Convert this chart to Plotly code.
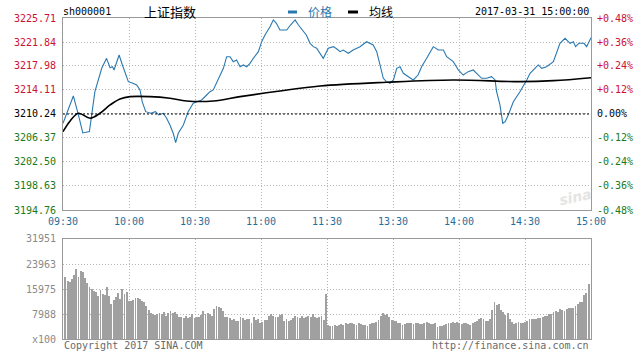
import plotly.graph_objects as go
import numpy as np

# ---------------- data ----------------
prev_close = 3210.24

price_min = [0, 2.5, 4.7, 7, 9, 12, 14.5, 17.6, 19.8, 21.4, 22.5, 23.2, 25.5, 27, 29.7, 31.5, 33.5, 35, 36, 37.6,
             39.9, 42, 43.5, 45.6, 47.1, 48.6, 50.1, 51.2, 52.4, 54.7, 56.9, 59.2, 61, 63, 65.3, 66.8, 68.3, 69.8, 71.4, 72.9,
             74.4, 75.9, 77.4, 78.9, 80.5, 82, 83.5, 85, 86.5, 88.8, 90.3, 91.8, 94.1, 95.6, 97, 98.6, 100, 101.7, 103.4, 105.5,
             107, 109.2, 110.6, 112.3, 113.8, 115.3, 116.8, 118.3, 120.6, 122.9, 124.5, 125.9, 127.4, 129.7, 131.9, 135, 138, 141, 142.6, 144,
             145.6, 147, 148.6, 150.2, 151.7, 153.2, 154.7, 157, 159.2, 161.4, 163, 165.3, 168.3, 170.6, 172.9, 174.4, 177.4, 179.7, 181.9, 184.2,
             186.5, 188, 190.3, 192.6, 194.8, 196.4, 197.1, 198.6, 199.9, 201, 202.4, 204.7, 207.7, 210.8, 212.3, 214.5, 216, 217.6, 219.8, 222.9,
             224.4, 225.9, 228.2, 230.5, 232, 233, 234.5, 236.8, 238, 239, 240]
price_val = [3208.74, 3211.20, 3213.14, 3210.08, 3207.18, 3207.39, 3213.83, 3217.60, 3219.21, 3217.70, 3217.86, 3217.33, 3219.75, 3218.14, 3215.45, 3215.24, 3214.91, 3214.11, 3212.22, 3210.61,
             3210.35, 3210.61, 3210.08, 3210.35, 3209.55, 3208.47, 3207.13, 3205.62, 3207.13, 3208.47, 3210.61, 3211.96, 3212.22, 3212.50, 3213.30, 3213.83, 3214.11, 3215.19, 3216.52, 3217.60,
             3219.47, 3219.47, 3218.67, 3218.94, 3217.86, 3218.14, 3217.86, 3218.41, 3219.21, 3220.28, 3221.89, 3222.97, 3224.31, 3225.39, 3224.86, 3223.78, 3223.78, 3223.78, 3224.58, 3225.39,
             3224.58, 3223.50, 3222.97, 3221.63, 3221.09, 3220.83, 3220.02, 3219.21, 3220.83, 3221.09, 3220.71, 3220.28, 3220.55, 3220.02, 3220.55, 3221.09, 3221.89, 3221.36, 3220.28, 3218.41,
             3215.99, 3215.45, 3215.19, 3215.72, 3217.60, 3217.86, 3216.80, 3216.25, 3215.72, 3216.52, 3217.86, 3219.21, 3221.09, 3220.55, 3220.55, 3219.47, 3218.67, 3217.33, 3216.52, 3217.06,
             3217.33, 3216.80, 3215.99, 3215.99, 3216.25, 3215.72, 3213.83, 3211.69, 3208.74, 3209.00, 3210.08, 3212.22, 3213.83, 3215.72, 3216.80, 3217.60, 3218.14, 3217.60, 3217.86, 3218.67,
             3220.28, 3221.63, 3222.44, 3221.63, 3221.89, 3221.09, 3221.63, 3221.63, 3221.09, 3221.89, 3222.51]

avg_min = [0, 3, 7, 12.3, 16.8, 21.4, 25.9, 30.5, 39.5, 48.6, 56.2, 68.3, 80.5, 98.6, 116.8, 147, 177.4, 207.7, 223, 240]
avg_val = [3207.39, 3209.00, 3210.35, 3209.55, 3210.35, 3211.69, 3212.66, 3213.03, 3213.03, 3212.77,
           3212.33, 3212.33, 3213.03, 3213.95, 3214.75, 3215.35, 3215.72, 3215.45, 3215.61, 3216.09]

# per-minute volume (units of 100 shares), morning then afternoon
vol_morning = [19900, 18500, 18300, 19100, 20400, 22400, 19800, 21800, 21500, 19400,
               17800, 16500, 15900, 15300, 15100, 13800, 15800, 14300, 14100, 16700,
               13700, 11100, 12500, 13300, 14600, 12800, 16000, 14400, 15100,
               12200, 12100, 12500, 13000, 13200, 12700, 12100, 11900, 10600,
               9300, 8200, 7900, 7700, 7900, 8200, 7900, 8500, 7500, 8200,
               8900, 8400, 8700, 7900, 7100, 7000, 6600, 7300, 6800, 7000,
               7900, 6800, 6900, 7100, 7700, 8900, 7900, 8200, 7900, 7300,
               9600, 10600, 10300, 9800, 8900, 7100, 6900, 6600, 6100, 6300, 5800,
               5750, 7000, 6800, 6100, 6400, 6400, 5200, 7100, 6100, 6400,
               5200, 5500, 6100, 6100, 7300, 7900, 7300, 7100, 7100, 7700,
               8000, 5900, 6400, 5750, 6100, 6600, 7300, 7100, 6600, 7300,
               6800, 7100, 7500, 7100, 7900, 7100, 6600, 7100, 7300, 6100]
vol_afternoon = [14400, 4500, 4150, 4150, 4500, 4260, 4500, 4800, 4500, 5000,
                 4800, 5200, 5000, 4800, 4500, 5000, 4800, 4500, 4500, 4260,
                 4800, 5200, 5000, 5500, 6100, 7300, 8200, 7700, 8000, 7100,
                 6100, 5750, 5750, 5200, 5000, 4500, 4800, 5200, 5000, 5000,
                 4800, 5000,
                 5000, 4800, 4800, 5000, 5300, 5000, 4800, 4800, 5000, 3940,
                 4150, 4150, 4500, 4800, 5000, 5200, 5500, 5000, 5500, 5000,
                 4800, 5000, 5200, 4800, 4500, 5000, 5500, 5860, 6280, 6600,
                 6400, 5860, 5860, 6280, 9270, 11930, 10860, 11080, 9270, 8730,
                 7670, 8200, 6280, 5540, 4800, 5200, 5500, 5200, 5200, 5500,
                 5860, 6280, 6400, 6400, 6400, 6600, 6600, 6900, 7350, 7350,
                 7880, 7990, 8520, 8950, 8520, 9590, 9270, 8950, 9590, 9800,
                 9800, 10010, 10540, 11080, 11720, 11930, 14060, 14800, 17570]
volume = vol_morning + vol_afternoon

price_ticks = [3194.76, 3198.63, 3202.50, 3206.37, 3210.24, 3214.11, 3217.98, 3221.84, 3225.71]
pct_labels = ['-0.48%', '-0.36%', '-0.24%', '-0.12%', '0.00%', '+0.12%', '+0.24%', '+0.36%', '+0.48%']
time_ticks = [0, 30, 60, 90, 120, 150, 180, 210, 240]
time_labels = ['09:30', '10:00', '10:30', '11:00', '11:30', '13:30', '14:00', '14:30', '15:00']
vol_ticks = [0, 7988, 15975, 23963, 31951]
vol_labels = ['x100', '7988', '15975', '23963', '31951']

title_code = 'sh000001'
title_name = '上证指数'
stamp = '2017-03-31 15:00:00'

# ---------------- layout helpers ----------------
W, H = 640, 358
px = lambda v: v / W
py = lambda v: (H - v) / H

RED = '#cc1133'
GREEN = '#1a7a1a'
BLUE = '#2a78b0'
MONO = 'DejaVu Sans Mono'

n_vol = len(volume)
vol_x = np.linspace(1.1, 238.9, n_vol)

fig = go.Figure()
fig.add_trace(go.Scatter(x=price_min, y=price_val, mode='lines',
                         line=dict(color=BLUE, width=1.1), xaxis='x', yaxis='y', hoverinfo='skip'))
fig.add_trace(go.Scatter(x=avg_min, y=avg_val, mode='lines', line_shape='spline',
                         line=dict(color='black', width=1.6), xaxis='x', yaxis='y', hoverinfo='skip'))
fig.add_trace(go.Bar(x=vol_x, y=volume, width=0.4,
                     marker=dict(color='#a0a0a0', line=dict(width=0)), xaxis='x2', yaxis='y2', hoverinfo='skip'))

grid = dict(showgrid=True, gridcolor='#b5b5b5', griddash='1px,2px', gridwidth=1,
            showline=True, mirror=True, linecolor='#9a9a9a', linewidth=1,
            zeroline=False, showticklabels=False, ticks='', fixedrange=True)

fig.update_layout(
    width=W, height=H, margin=dict(l=0, r=0, t=0, b=0),
    paper_bgcolor='white', plot_bgcolor='white', showlegend=False, bargap=0,
    xaxis=dict(domain=[px(63), px(591)], range=[0, 240], tickvals=time_ticks, anchor='y', **grid),
    yaxis=dict(domain=[py(210), py(18)], range=[price_ticks[0], price_ticks[-1]], tickvals=price_ticks, anchor='x', **grid),
    xaxis2=dict(domain=[px(63), px(591)], range=[0, 240], tickvals=time_ticks, anchor='y2', **grid),
    yaxis2=dict(domain=[py(339), py(239)], range=[0, vol_ticks[-1]], tickvals=vol_ticks, anchor='x2', **grid),
)

# previous close line
fig.add_shape(type='line', xref='x', yref='y', x0=0, x1=240, y0=prev_close, y1=prev_close,
              line=dict(color='black', width=1, dash='2px,2px'))

ann = []
for v, p in zip(price_ticks, pct_labels):
    col = RED if v > prev_close + 0.001 else (GREEN if v < prev_close - 0.001 else 'black')
    ann.append(dict(xref='paper', yref='y', x=px(58), y=v, text=f'{v:.2f}', xanchor='right', yanchor='middle',
                    showarrow=False, font=dict(family=MONO, size=10, color=col)))
    ann.append(dict(xref='paper', yref='y', x=px(595), y=v, text=p, xanchor='left', yanchor='middle',
                    showarrow=False, font=dict(family=MONO, size=10, color=col)))
for t, lab in zip(time_ticks, time_labels):
    ann.append(dict(xref='x', yref='paper', x=t, y=py(222), text=lab, xanchor='center', yanchor='middle',
                    showarrow=False, font=dict(family=MONO, size=10, color='#1f6fa0')))
for v, lab in zip(vol_ticks, vol_labels):
    ann.append(dict(xref='paper', yref='y2', x=px(58), y=v, text=lab, xanchor='right', yanchor='middle',
                    showarrow=False, font=dict(family=MONO, size=10, color='#8a8a8a')))

ann.append(dict(xref='paper', yref='paper', x=px(62), y=py(345), text='Copyright 2017 SINA.COM', xanchor='left',
                yanchor='middle', showarrow=False, font=dict(family=MONO, size=10, color='#6a6a6a')))
ann.append(dict(xref='paper', yref='paper', x=px(591), y=py(345), text='http://finance.sina.com.cn', xanchor='right',
                yanchor='middle', showarrow=False, font=dict(family=MONO, size=10, color='#6a6a6a')))

# header
ann.append(dict(xref='paper', yref='paper', x=px(61), y=py(12), text=title_code, xanchor='left', yanchor='middle',
                showarrow=False, font=dict(family=MONO, size=10, color='black')))
ann.append(dict(xref='paper', yref='paper', x=px(142), y=py(12), text=title_name, xanchor='left', yanchor='middle',
                showarrow=False, font=dict(family='Noto Sans CJK SC', size=13, color='black')))
ann.append(dict(xref='paper', yref='paper', x=px(306), y=py(12), text='价格', xanchor='left', yanchor='middle',
                showarrow=False, font=dict(family='Noto Sans CJK SC', size=12, color=BLUE)))
ann.append(dict(xref='paper', yref='paper', x=px(367), y=py(12), text='均线', xanchor='left', yanchor='middle',
                showarrow=False, font=dict(family='Noto Sans CJK SC', size=12, color='black')))
ann.append(dict(xref='paper', yref='paper', x=px(591), y=py(12), text=stamp, xanchor='right', yanchor='middle',
                showarrow=False, font=dict(family=MONO, size=10, color='black')))
# watermark
ann.append(dict(xref='paper', yref='paper', x=px(575), y=py(197), text='<i><b>sina</b></i>', xanchor='center',
                yanchor='middle', showarrow=False, textangle=-12,
                font=dict(family='DejaVu Sans', size=14, color='#e4e4e4')))
fig.update_layout(annotations=ann)

# legend swatches
fig.add_shape(type='rect', xref='paper', yref='paper', x0=px(288), x1=px(297), y0=py(13.5), y1=py(10.5),
              fillcolor=BLUE, line=dict(width=0))
fig.add_shape(type='rect', xref='paper', yref='paper', x0=px(348), x1=px(358), y0=py(13.5), y1=py(10.5),
              fillcolor='black', line=dict(width=0))

fig.write_html('out.html')
